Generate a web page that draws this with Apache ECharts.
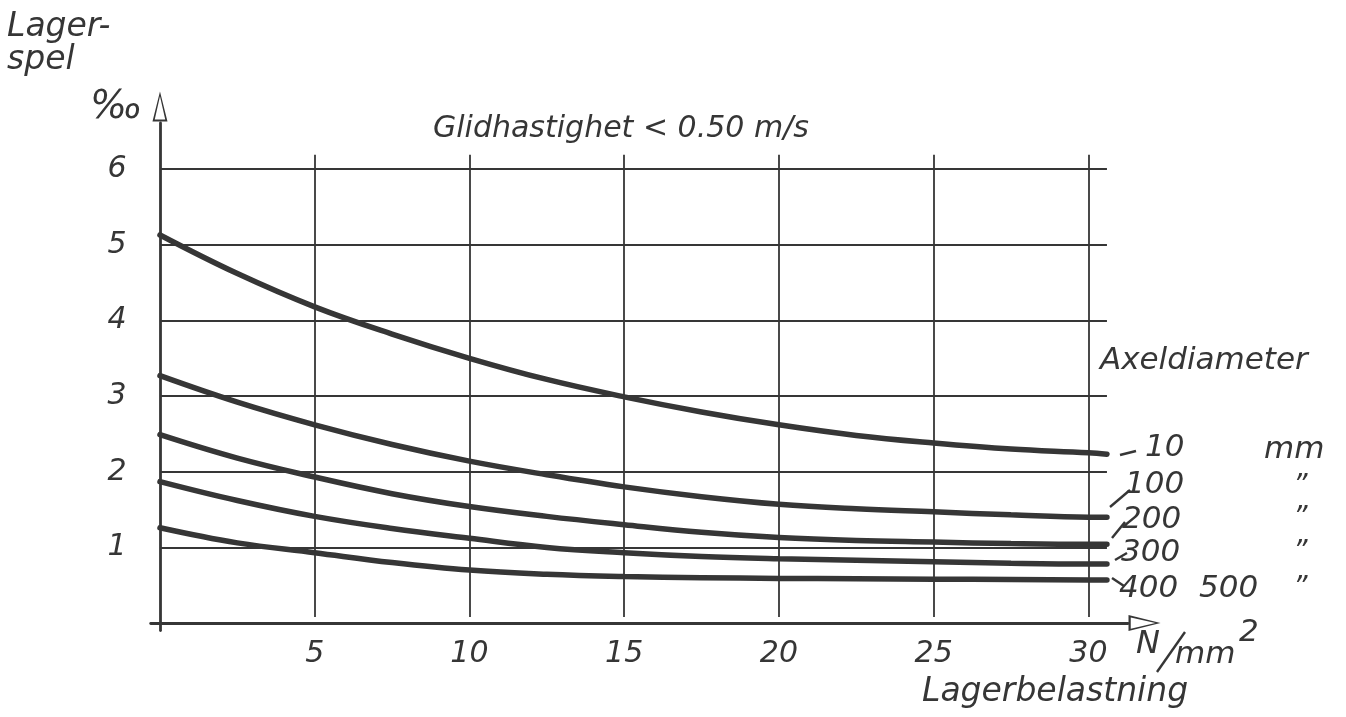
<!DOCTYPE html>
<html>
<head>
<meta charset="utf-8">
<script src="https://cdn.jsdelivr.net/npm/echarts@6/dist/echarts.min.js"></script>
<style>
html, body { margin: 0; background: #fff; }
#main { width: 1346px; height: 717px; }
</style>
</head>
<body>
<div id="main"></div>
<script>
// tick labels
var xTicks = [5, 10, 15, 20, 25, 30];
var yTicks = [1, 2, 3, 4, 5, 6];

// Lagerbelastning (N/mm2)
var loadX = [0, 2.5, 5, 7.5, 10, 12.5, 15, 17.5, 20, 22.5, 25, 27.5, 30, 30.6];

// Lagerspel (promille) per axeldiameter
var spel10  = [5.13, 4.62, 4.18, 3.82, 3.50, 3.22, 2.99, 2.79, 2.62, 2.48, 2.38, 2.30, 2.25, 2.23];
var spel100 = [3.27, 2.92, 2.62, 2.36, 2.14, 1.96, 1.80, 1.67, 1.57, 1.51, 1.47, 1.43, 1.40, 1.40];
var spel200 = [2.49, 2.18, 1.93, 1.71, 1.54, 1.41, 1.30, 1.20, 1.13, 1.09, 1.07, 1.05, 1.04, 1.04];
var spel300 = [1.87, 1.62, 1.41, 1.25, 1.12, 1.00, 0.93, 0.88, 0.85, 0.83, 0.81, 0.79, 0.78, 0.78];
var spel400 = [1.26, 1.06, 0.93, 0.80, 0.70, 0.645, 0.615, 0.60, 0.59, 0.585, 0.58, 0.575, 0.57, 0.57];

var curveNames = ['10', '100', '200', '300', '400 500'];
var curveValues = [spel10, spel100, spel200, spel300, spel400];

var ink = '#363636';
var fam = "'DejaVu Sans', sans-serif";
var hollowArrow = 'path://M5,0 L10,20 L0,20 Z M5,3.2 L1.5,18.6 L8.5,18.6 Z';

function pairs(xs, ys) {
    var out = [];
    for (var i = 0; i < xs.length; i++) {
        out.push([xs[i], ys[i]]);
    }
    return out;
}

// rutnät: vertikala linjer vid x-ticks, horisontella vid y-ticks
var gridLines = [];
xTicks.forEach(function (t) {
    gridLines.push([{coord: [t, 0.08]}, {coord: [t, 6.19]}]);
});
yTicks.forEach(function (t) {
    gridLines.push([{coord: [0, t]}, {coord: [30.6, t]}]);
});

var series = [{
    type: 'line',
    data: [],
    silent: true,
    markLine: {
        silent: true,
        symbol: 'none',
        label: {show: false},
        lineStyle: {color: ink, width: 1.8, type: 'solid'},
        emphasis: {disabled: true},
        data: gridLines
    }
}];
curveValues.forEach(function (vals, i) {
    series.push({
        name: curveNames[i],
        type: 'line',
        smooth: 0.4,
        showSymbol: false,
        z: 3,
        lineStyle: {color: ink, width: 5.5, cap: 'round'},
        data: pairs(loadX, vals)
    });
});

function txt(str, x, y, size, align) {
    return {
        type: 'text',
        x: x,
        y: y,
        silent: true,
        style: {
            text: str,
            fill: ink,
            font: 'italic ' + size + 'px ' + fam,
            align: align || 'left',
            textAlign: align || 'left',
            verticalAlign: 'middle',
            textVerticalAlign: 'middle'
        }
    };
}
function seg(x1, y1, x2, y2) {
    return {
        type: 'line',
        silent: true,
        shape: {x1: x1, y1: y1, x2: x2, y2: y2},
        style: {stroke: ink, lineWidth: 2.4}
    };
}

var chart = echarts.init(document.getElementById('main'));
chart.setOption({
    backgroundColor: '#ffffff',
    animation: false,
    grid: {left: 150.7, right: 218, top: 123, bottom: 86.4},
    xAxis: {
        type: 'value',
        min: -0.3,
        max: 31.28,
        axisLine: {
            onZero: true,
            symbol: ['none', hollowArrow],
            symbolSize: [16, 33],
            symbolOffset: [0, 16.5],
            lineStyle: {color: ink, width: 2.8}
        },
        axisTick: {show: false},
        splitLine: {show: false},
        axisLabel: {
            customValues: xTicks,
            margin: 9,
            color: ink,
            fontSize: 30,
            fontStyle: 'italic',
            fontFamily: fam
        }
    },
    yAxis: {
        type: 'value',
        min: -0.1,
        max: 6.61,
        axisLine: {
            onZero: true,
            symbol: ['none', hollowArrow],
            symbolSize: [15, 33],
            symbolOffset: [0, 16.5],
            lineStyle: {color: ink, width: 2.8}
        },
        axisTick: {show: false},
        splitLine: {show: false},
        axisLabel: {
            customValues: yTicks,
            margin: 24,
            color: ink,
            fontSize: 30,
            fontStyle: 'italic',
            fontFamily: fam
        }
    },
    graphic: [
        txt('Lager-', 7, 27, 33),
        txt('spel', 7, 60, 33),
        txt('\u2030', 90, 108, 39),
        txt('Glidhastighet < 0.50 m/s', 433, 129, 30),
        txt('Axeldiameter', 1100, 361, 31),
        seg(1120, 455, 1136, 451),
        txt('10', 1145, 448, 31),
        txt('mm', 1264, 450, 31),
        seg(1110, 507, 1130, 490),
        txt('100', 1125, 485, 31),
        txt('\u201d', 1293, 487, 28),
        seg(1112, 538, 1125, 522),
        txt('200', 1122, 520, 31),
        txt('\u201d', 1293, 519, 28),
        seg(1115, 560, 1127, 553),
        txt('300', 1121, 553, 31),
        txt('\u201d', 1293, 553, 28),
        seg(1112, 578, 1124, 586),
        txt('400', 1119, 589, 31),
        txt('500', 1199, 589, 31),
        txt('\u201d', 1293, 589, 28),
        txt('N', 1136, 645, 32),
        seg(1157, 672, 1185, 632),
        txt('mm', 1175, 655, 31),
        txt('2', 1239, 633, 31),
        txt('Lagerbelastning', 922, 692, 33)
    ],
    series: series
});
</script>
</body>
</html>
